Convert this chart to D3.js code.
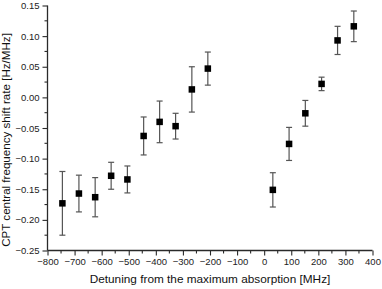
<!DOCTYPE html>
<html><head><meta charset="utf-8">
<script src="https://cdn.jsdelivr.net/npm/d3@7"></script>
<style>
html,body{margin:0;padding:0;background:#fff;}
svg{display:block;font-family:"Liberation Sans",Arial,sans-serif;}
</style></head>
<body>
<svg id="chart" width="382" height="289"></svg>
<script>
const detuning = [-745,-684,-624,-565,-505,-445,-386,-327,-267,-208,32,92,152,212,271,331];
const shiftRate = [-0.173,-0.157,-0.163,-0.128,-0.134,-0.063,-0.040,-0.047,0.013,0.047,-0.151,-0.076,-0.026,0.022,0.093,0.116];
const errors = [0.052,0.030,0.032,0.022,0.022,0.031,0.034,0.021,0.037,0.027,0.028,0.027,0.021,0.011,0.023,0.025];
const xTicks = [-800,-700,-600,-500,-400,-300,-200,-100,0,100,200,300,400];
const yTicks = [-0.25,-0.20,-0.15,-0.10,-0.05,0.00,0.05,0.10,0.15];
const xLabel = "Detuning from the maximum absorption [MHz]";
const yLabel = "CPT central frequency shift rate [Hz/MHz]";

const svg = d3.select("#chart");
const x = d3.scaleLinear().domain([-800,400]).range([47.5,372.5]);
const y = d3.scaleLinear().domain([-0.25,0.15]).range([250.5,5.5]);
const axisColor = "#2a2a2a";

const xMinor = d3.range(-750,400,100);
const yMinor = d3.range(-0.225,0.15,0.05);

const gx = svg.append("g").attr("transform",`translate(0,${y(-0.25)})`);
gx.call(d3.axisBottom(x).tickValues(xTicks).tickFormat(d3.format("d")).tickSize(5).tickPadding(3));
gx.append("g").selectAll("line").data(xMinor).join("line")
  .attr("x1",d=>x(d)).attr("x2",d=>x(d)).attr("y1",0).attr("y2",3);

const gy = svg.append("g").attr("transform",`translate(${x(-800)},0)`);
gy.call(d3.axisLeft(y).tickValues(yTicks).tickFormat(d3.format(".2f")).tickSize(5).tickPadding(3));
gy.append("g").selectAll("line").data(yMinor).join("line")
  .attr("y1",d=>y(d)).attr("y2",d=>y(d)).attr("x1",0).attr("x2",-3);

[gx,gy].forEach(g=>{
  g.select(".domain").attr("stroke",axisColor).attr("stroke-width",1.3);
  g.selectAll("line").attr("stroke",axisColor).attr("stroke-width",1.1);
  g.selectAll("text").attr("fill","#222").style("font-size","9.5px").style("font-family","Liberation Sans, Arial, sans-serif");
});
gx.select(".domain").attr("d",`M${x(-800)},0H${x(400)}`);
gy.select(".domain").attr("d",`M0,${y(-0.25)}V${y(0.15)}`);

const data = detuning.map((d,i)=>({x:d,y:shiftRate[i],e:errors[i]}));

const eb = svg.append("g").attr("stroke","#555").attr("stroke-width",1.2);
eb.selectAll("line.v").data(data).join("line").attr("class","v")
  .attr("x1",d=>x(d.x)).attr("x2",d=>x(d.x)).attr("y1",d=>y(d.y+d.e)).attr("y2",d=>y(d.y-d.e));
eb.selectAll("line.t").data(data).join("line").attr("class","t")
  .attr("x1",d=>x(d.x)-3).attr("x2",d=>x(d.x)+3).attr("y1",d=>y(d.y+d.e)).attr("y2",d=>y(d.y+d.e));
eb.selectAll("line.b").data(data).join("line").attr("class","b")
  .attr("x1",d=>x(d.x)-3).attr("x2",d=>x(d.x)+3).attr("y1",d=>y(d.y-d.e)).attr("y2",d=>y(d.y-d.e));

svg.append("g").selectAll("rect").data(data).join("rect")
  .attr("x",d=>x(d.x)-3.25).attr("y",d=>y(d.y)-3.25).attr("width",6.5).attr("height",6.5)
  .attr("fill","#000");

svg.append("text").attr("x",210).attr("y",283).attr("text-anchor","middle")
  .style("font-size","11.8px").attr("fill","#111").text(xLabel);
svg.append("text").attr("transform","translate(9.5,140) rotate(-90)").attr("text-anchor","middle")
  .style("font-size","11.6px").attr("fill","#111").text(yLabel);
</script>
</body></html>
